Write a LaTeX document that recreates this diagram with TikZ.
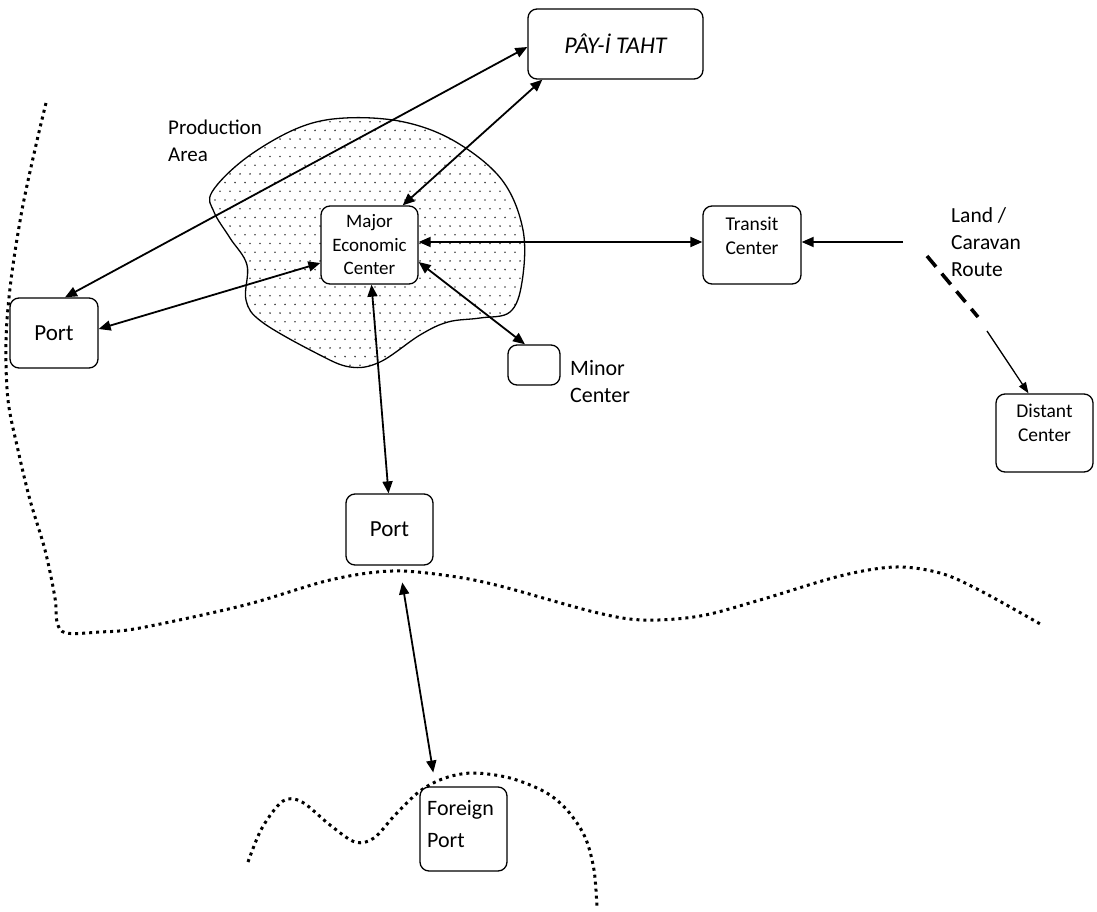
\documentclass[tikz,border=0pt]{standalone}
\usepackage{fontspec}
\setmainfont{Carlito}
\usetikzlibrary{arrows.meta}
\tikzset{bt/.tip={Triangle[length=12pt,width=10pt]}}
\begin{document}
\begin{tikzpicture}[x=1pt,y=-1pt,
  box/.style={draw, rounded corners=9pt, line width=1.3pt, fill=white, inner sep=0pt, align=center},
  biarrow/.style={bt-bt, line width=1.8pt},
  onearrow/.style={-bt, line width=1.8pt},
  coast/.style={line width=3pt, dash pattern=on 3pt off 4pt},
  lbl/.style={inner sep=0pt, align=left, anchor=base west},
  ctxt/.style={inner sep=0pt, align=center, anchor=base}]
\useasboundingbox (0,0) rectangle (1097,912);

% coastlines
\draw[coast] plot[smooth, tension=0.55] coordinates {(46,103) (36,145) (22,210) (11,280) (6,340) (8,400) (18,450) (30,500) (45,550) (55,598) (57,622) (66,633) (100,632) (140,628) (245,605) (330,580) (392,571) (450,576) (500,586) (594,612) (643,620) (700,616) (760,600) (840,576) (895,567) (940,573) (979,590) (1042,625)};
\draw[coast] plot[smooth, tension=0.55] coordinates {(248,862) (262,828) (283,801) (302,802) (330,825) (355,842) (374,838) (395,815) (420,791) (445,778) (473,773) (510,778) (545,792) (567,810) (585,837) (594,870) (597,908)};

% production area
\begin{scope}
\clip plot[smooth cycle, tension=0.6] coordinates {(212,192) (246,158) (298,128) (345,118) (404,122) (456,142) (502,180) (523,230) (522,282) (510,312) (480,318) (448,322) (420,335) (380,362) (350,367) (316,353) (262,322) (246,300) (247,265) (230,238) (214,212)};
\foreach \j in {0,...,30} {\foreach \i in {0,...,34} {\fill[black!75] ({205+\i*10+mod(\j,2)*5},{113+\j*8.7}) circle (0.9pt);}}
\end{scope}
\draw[line width=1.3pt] plot[smooth cycle, tension=0.6] coordinates {(212,192) (246,158) (298,128) (345,118) (404,122) (456,142) (502,180) (523,230) (522,282) (510,312) (480,318) (448,322) (420,335) (380,362) (350,367) (316,353) (262,322) (246,300) (247,265) (230,238) (214,212)};

% boxes
\node[box, minimum width=175pt, minimum height=70pt, font=\fontsize{24}{28}\selectfont\itshape] (pay) at (615.5,44) {PÂY-İ TAHT};
\node[box, minimum width=97pt, minimum height=78pt, font=\fontsize{19}{23.5}\selectfont] (major) at (369.5,245) {Major\\Economic\\Center};
\node[box, minimum width=88pt, minimum height=70pt, font=\fontsize{23}{27}\selectfont] (portL) at (54,333) {Port};
\node[box, minimum width=98pt, minimum height=78pt] (transit) at (752,245) {};
\node[ctxt, font=\fontsize{19.5}{24}\selectfont] (transitT) at (752,254) {Transit\\Center};
\node[box, minimum width=52pt, minimum height=40pt] (minor) at (534,365) {};
\node[box, minimum width=97pt, minimum height=78pt] (distant) at (1044.5,433) {};
\node[ctxt, font=\fontsize{19.5}{24}\selectfont] (distantT) at (1044.5,441) {Distant\\Center};
\node[box, minimum width=87pt, minimum height=71pt, font=\fontsize{23}{27}\selectfont] (portB) at (389.5,529.5) {Port};
\node[box, minimum width=87pt, minimum height=84pt] (foreign) at (463.5,829) {};
\node[lbl, font=\fontsize{22}{32}\selectfont] (foreignT) at (427,847) {Foreign\\Port};

% labels
\node[lbl, font=\fontsize{21}{27}\selectfont] (prod) at (168,162) {Production\\Area};
\node[lbl, font=\fontsize{21.5}{27}\selectfont] (land) at (951,276) {Land /\\Caravan\\Route};
\node[lbl, font=\fontsize{22}{27}\selectfont] (minorT) at (570,402) {Minor\\Center};

% connectors
\draw[biarrow] ([xshift=11pt]portL.north) -- ([yshift=-3pt]pay.west);
\draw[biarrow] ([xshift=-16pt]major.north east) -- ([xshift=15pt]pay.south west);
\draw[biarrow] ([yshift=-18pt]major.west) -- ([yshift=4pt]portL.east);
\draw[biarrow] ([yshift=3pt]major.east) -- ([yshift=3pt]transit.west);
\coordinate (caravanEnd) at (903,242);
\draw[onearrow] (caravanEnd) -- ([yshift=3pt]transit.east);
\draw[biarrow] ([xshift=2pt]major.south) -- ([xshift=-1pt]portB.north);
\draw[biarrow] ([yshift=-17pt]major.east) -- ([xshift=-9pt]minor.north);
\draw[biarrow, shorten <=17pt, shorten >=14pt] ([xshift=10pt]portB.south) -- ([xshift=-28pt]foreign.north);
\coordinate (dashA) at (927,256);
\coordinate (dashB) at (978,317);
\draw[line width=3.6pt, dash pattern=on 14pt off 9pt] (dashA) -- (dashB);
\coordinate (thinStart) at (987,331);
\draw[-{Triangle[length=11pt,width=8pt]}, line width=1.3pt] (thinStart) -- ([xshift=-16pt]distant.north);
\end{tikzpicture}
\end{document}
